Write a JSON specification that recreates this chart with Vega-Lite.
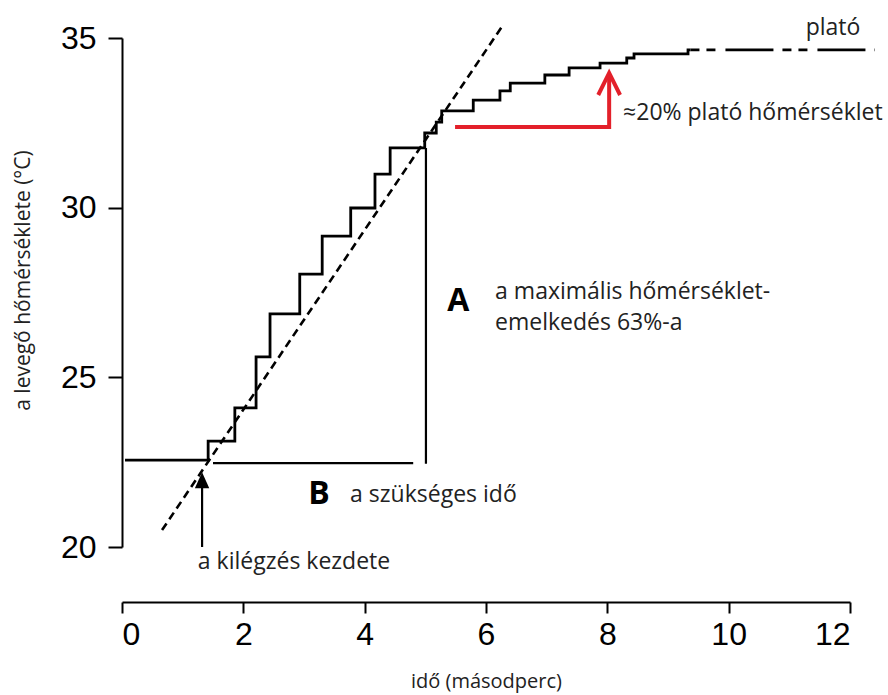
{
  "$schema": "https://vega.github.io/schema/vega-lite/v6.json",
  "width": 728,
  "height": 509,
  "autosize": {"type": "none"},
  "padding": {"left": 122, "top": 38, "right": 38, "bottom": 148},
  "background": "white",
  "config": {
    "view": {"stroke": null},
    "axis": {
      "grid": false,
      "domainColor": "black",
      "domainWidth": 2,
      "tickColor": "black",
      "tickWidth": 2,
      "labelColor": "black",
      "labelFont": "Liberation Sans Narrow, Liberation Sans, Arial, sans-serif",
      "labelFontSize": 32,
      "titleFont": "Open Sans",
      "titleFontSize": 20,
      "titleFontWeight": "normal",
      "titleColor": "#222"
    }
  },
  "datasets": {
    "steps": [
      {"x": 0.05, "y": 22.56}, {"x": 1.42, "y": 23.12}, {"x": 1.86, "y": 24.10},
      {"x": 2.21, "y": 25.60}, {"x": 2.44, "y": 26.87}, {"x": 2.93, "y": 28.04},
      {"x": 3.30, "y": 29.16}, {"x": 3.77, "y": 29.99}, {"x": 4.17, "y": 30.99},
      {"x": 4.42, "y": 31.76}, {"x": 4.99, "y": 32.20}, {"x": 5.18, "y": 32.52},
      {"x": 5.27, "y": 32.85}, {"x": 5.79, "y": 33.17}, {"x": 6.23, "y": 33.44},
      {"x": 6.40, "y": 33.67}, {"x": 6.97, "y": 33.91}, {"x": 7.37, "y": 34.12},
      {"x": 7.88, "y": 34.26}, {"x": 8.32, "y": 34.41}, {"x": 8.44, "y": 34.53},
      {"x": 9.33, "y": 34.65}, {"x": 9.37, "y": 34.65}
    ],
    "plateau": [{"x": 9.37, "y": 34.65}, {"x": 12.41, "y": 34.65}],
    "tangent": [{"x": 0.66, "y": 20.50}, {"x": 6.28, "y": 35.38}],
    "segments": [
      {"id": "A", "o": 1, "x": 5.01, "y": 31.76}, {"id": "A", "o": 2, "x": 5.01, "y": 22.45},
      {"id": "B", "o": 1, "x": 1.50, "y": 22.47}, {"id": "B", "o": 2, "x": 4.80, "y": 22.47},
      {"id": "arrow", "o": 1, "x": 1.32, "y": 20.0}, {"id": "arrow", "o": 2, "x": 1.32, "y": 21.9}
    ],
    "head": [{"x": 1.32, "y": 21.97}],
    "red": [
      {"id": "shaft", "o": 1, "x": 5.49, "y": 32.38}, {"id": "shaft", "o": 2, "x": 8.03, "y": 32.38},
      {"id": "shaft", "o": 3, "x": 8.03, "y": 33.9},
      {"id": "head", "o": 1, "x": 7.85, "y": 33.32}, {"id": "head", "o": 2, "x": 8.03, "y": 33.97},
      {"id": "head", "o": 3, "x": 8.21, "y": 33.32}
    ],
    "labels": [
      {"x": 11.27, "y": 35.29, "text": "plató"},
      {"x": 8.26, "y": 32.79, "text": "≈20% plató hőmérséklet"},
      {"x": 6.15, "y": 27.51, "text": "a maximális hőmérséklet-"},
      {"x": 6.15, "y": 26.60, "text": "emelkedés 63%-a"},
      {"x": 3.76, "y": 21.53, "text": "a szükséges idő"},
      {"x": 1.25, "y": 19.56, "text": "a kilégzés kezdete"}
    ],
    "letters": [
      {"x": 5.36, "y": 27.25, "text": "A"},
      {"x": 3.07, "y": 21.56, "text": "B"}
    ]
  },
  "encoding": {
    "x": {
      "field": "x", "type": "quantitative",
      "scale": {"domain": [0, 12], "nice": false, "zero": false},
      "axis": {"values": [0, 2, 4, 6, 8, 10, 12], "title": "idő (másodperc)", "offset": 55, "tickSize": 11, "labelPadding": 6, "titlePadding": 21}
    },
    "y": {
      "field": "y", "type": "quantitative",
      "scale": {"domain": [20, 35], "nice": false, "zero": false},
      "axis": {"values": [20, 25, 30, 35], "title": "a levegő hőmérséklete (°C)", "titleFontSize": 21, "titleY": 242, "tickSize": 14, "labelPadding": 12, "titlePadding": 27}
    }
  },
  "layer": [
    {
      "data": {"name": "steps"},
      "mark": {"type": "line", "interpolate": "step-after", "color": "black", "strokeWidth": 2.8}
    },
    {
      "data": {"name": "plateau"},
      "mark": {"type": "line", "color": "black", "strokeWidth": 2.8, "strokeDash": [9, 7, 9, 10, 48, 9]}
    },
    {
      "data": {"name": "tangent"},
      "mark": {"type": "line", "color": "black", "strokeWidth": 2.6, "strokeDash": [8, 5]}
    },
    {
      "data": {"name": "segments"},
      "mark": {"type": "line", "color": "black", "strokeWidth": 2.2},
      "encoding": {"detail": {"field": "id"}, "order": {"field": "o"}}
    },
    {
      "data": {"name": "head"},
      "mark": {"type": "point", "shape": "M0,-1L0.9,1L-0.9,1Z", "size": 256, "filled": true, "color": "black", "opacity": 1}
    },
    {
      "data": {"name": "red"},
      "mark": {"type": "line", "color": "#e3202a", "strokeWidth": 4, "strokeJoin": "miter", "strokeCap": "butt"},
      "encoding": {"detail": {"field": "id"}, "order": {"field": "o"}}
    },
    {
      "data": {"name": "labels"},
      "mark": {"type": "text", "font": "Open Sans", "fontSize": 23, "color": "#222", "align": "left", "baseline": "middle"},
      "encoding": {"text": {"field": "text"}}
    },
    {
      "data": {"name": "letters"},
      "mark": {"type": "text", "font": "Open Sans", "fontSize": 32, "fontWeight": "bold", "color": "black", "align": "left", "baseline": "middle"},
      "encoding": {"text": {"field": "text"}}
    }
  ]
}
